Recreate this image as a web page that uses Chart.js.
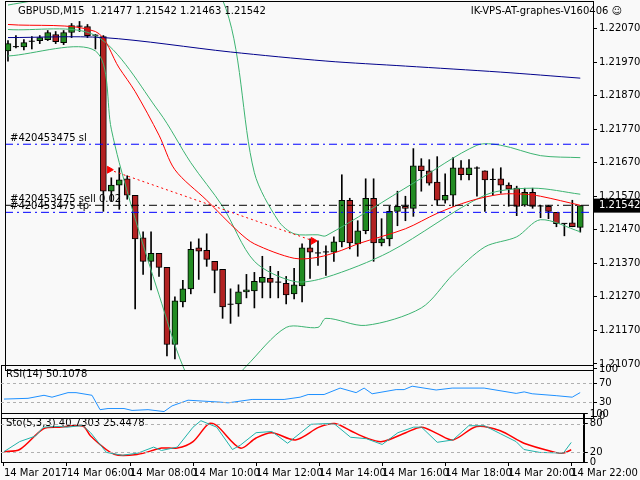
<!DOCTYPE html>
<html>
<head>
<meta charset="utf-8">
<script src="https://cdn.jsdelivr.net/npm/chart.js@4.4.1/dist/chart.umd.min.js"></script>
<style>
  body { margin: 0; background: #f9f9f9; width: 640px; height: 480px; overflow: hidden; position: relative; }
  canvas { position: absolute; left: 0; }
</style>
</head>
<body>
<canvas id="main" style="top:-7px"></canvas>
<canvas id="rsi" style="top:357px"></canvas>
<canvas id="sto" style="top:405px"></canvas>
<script>
// candles, 15 min, index 0..72
const opens  = [1.22003,1.22015,1.22015,1.22031,1.22034,1.22037,1.22052,1.22028,1.22058,1.22076,1.22076,1.22049,1.22046,1.21585,1.21603,1.21622,1.21573,1.21446,1.21376,1.21400,1.21358,1.21128,1.21255,1.21294,1.21416,1.21409,1.21376,1.21352,1.21249,1.21249,1.21285,1.21288,1.21313,1.21325,1.21313,1.21310,1.21279,1.21303,1.21416,1.21400,1.21403,1.21403,1.21434,1.21558,1.21428,1.21467,1.21564,1.21431,1.21443,1.21525,1.21540,1.21534,1.21661,1.21646,1.21612,1.21558,1.21573,1.21655,1.21634,1.21655,1.21646,1.21619,1.21622,1.21603,1.21594,1.21543,1.21582,1.21540,1.21540,1.21522,1.21488,1.21491,1.21477];
const highs  = [1.22034,1.22049,1.22037,1.22046,1.22049,1.22064,1.22061,1.22064,1.22085,1.22091,1.22082,1.22052,1.22049,1.21625,1.21655,1.21631,1.21573,1.21464,1.21464,1.21400,1.21358,1.21270,1.21319,1.21434,1.21443,1.21458,1.21376,1.21352,1.21294,1.21306,1.21337,1.21343,1.21391,1.21361,1.21346,1.21331,1.21355,1.21428,1.21443,1.21437,1.21422,1.21449,1.21634,1.21564,1.21497,1.21622,1.21622,1.21503,1.21540,1.21585,1.21570,1.21712,1.21682,1.21679,1.21688,1.21637,1.21685,1.21676,1.21679,1.21658,1.21646,1.21652,1.21655,1.21610,1.21600,1.21594,1.21594,1.21543,1.21543,1.21522,1.21488,1.21558,1.21542];
const lows   = [1.21973,1.22012,1.22006,1.22009,1.22025,1.22034,1.22025,1.22022,1.22043,1.22061,1.22043,1.22009,1.21525,1.21555,1.21531,1.21561,1.21234,1.21337,1.21291,1.21331,1.21094,1.21085,1.21240,1.21279,1.21322,1.21361,1.21282,1.21206,1.21191,1.21212,1.21267,1.21237,1.21267,1.21267,1.21267,1.21249,1.21264,1.21255,1.21325,1.21364,1.21334,1.21376,1.21419,1.21413,1.21391,1.21458,1.21376,1.21422,1.21422,1.21482,1.21497,1.21510,1.21585,1.21603,1.21543,1.21549,1.21540,1.21619,1.21619,1.21570,1.21525,1.21573,1.21579,1.21540,1.21512,1.21540,1.21534,1.21506,1.21503,1.21479,1.21452,1.21479,1.21463];
const closes = [1.22025,1.22016,1.22028,1.22032,1.22043,1.22058,1.22031,1.22058,1.22079,1.22077,1.22049,1.22050,1.21585,1.21603,1.21619,1.21573,1.21443,1.21376,1.21400,1.21358,1.21128,1.21258,1.21294,1.21412,1.21406,1.21382,1.21349,1.21240,1.21248,1.21285,1.21291,1.21316,1.21328,1.21313,1.21314,1.21276,1.21306,1.21416,1.21403,1.21401,1.21404,1.21434,1.21558,1.21431,1.21467,1.21564,1.21431,1.21443,1.21525,1.21540,1.21534,1.21661,1.21646,1.21609,1.21558,1.21573,1.21655,1.21634,1.21655,1.21654,1.21619,1.21620,1.21603,1.21591,1.21540,1.21582,1.21540,1.21541,1.21525,1.21488,1.21489,1.21479,1.21542];

// indicator lines, read at some candles
const redMaIdx = [0,11,14,16,19,21,25,29,31,36,39,42,44,50,54,58,62,65,67,72];
const redMaVal = [1.22082,1.22061,1.21952,1.21882,1.21752,1.21649,1.21558,1.21464,1.21428,1.21385,1.21388,1.21409,1.21428,1.21473,1.21519,1.21555,1.21576,1.21576,1.21570,1.21543];
const blueMaIdx = [0,12,28,40,50,62,72];
const blueMaVal = [1.22043,1.22043,1.22000,1.21973,1.21958,1.21940,1.21922];
const bbUpIdx = [0,3,8,14,20,27,31,34,36,39,40,51,59,62,67,72];
const bbUpVal = [1.22140,1.22152,1.22170,1.22276,1.22246,1.22155,1.21640,1.21497,1.21458,1.21455,1.21452,1.21609,1.21722,1.21722,1.21691,1.21685];
const bbMidIdx = [0,11,19,23,27,31,36,40,48,60,66,72];
const bbMidVal = [1.22067,1.22049,1.21822,1.21670,1.21540,1.21376,1.21316,1.21328,1.21404,1.21573,1.21594,1.21576];
const bbLowIdx = [0,11,13,14,16,19,22,25,30,35,39,40,45,52,56,60,64,67,72];
const bbLowVal = [1.21988,1.22003,1.21770,1.21670,1.21503,1.21276,1.21064,1.20943,1.21064,1.21179,1.21179,1.21206,1.21185,1.21237,1.21337,1.21419,1.21449,1.21500,1.21464];

const rsiIdx = [0,3,5,6,8,9,11,12,13,15,16,18,20,21,23,27,28,31,35,37,38,40,42,44,45,46,49,50,51,54,56,60,64,65,66,69,71,72];
const rsiVal = [36.4,38,44.4,40.4,50,50,44.4,14,16.4,16.4,12.4,14,10,22,34,30,28.4,35.6,35.6,40.4,46,46,59.6,50,59.6,47.6,56.4,56.4,63.6,55.6,59.6,59.6,48.4,51.6,47.6,43.6,40.4,50.1];
const stoKIdx = [0,2,4,5,7,8,10,11,13,15,17,19,20,22,24,25,27,29,30,32,34,36,39,41,42,44,46,48,50,52,53,55,57,59,61,63,65,66,68,71,72];
const stoKVal = [21.5,42.5,54,72.5,74,72.5,76,61,20,14,18.5,31,24,31,72.5,86,72.5,26,35,61,63.5,39,78.5,80,78.5,51.5,48.5,36.5,61,72.5,72.5,41,46,75.5,75.5,59,42.5,26,20,18.5,40.7];
const stoDIdx = [0,2,5,7,10,11,14,17,20,22,24,26,27,30,32,34,37,40,42,44,46,48,51,53,55,57,60,63,66,70,71,72];
const stoDVal = [21.5,26,69,72.5,75,54,16,16,29,29,42.5,80,76,29,50,61,46,72.5,80,65,50,42.5,61,72.5,59,46,74,65,39,20,18.5,25.4];

const timeTickIdx = [0,8,16,24,32,40,48,56,64,72];
const timeLabels = ['14 Mar 2017','14 Mar 06:00','14 Mar 08:00','14 Mar 10:00','14 Mar 12:00','14 Mar 14:00','14 Mar 16:00','14 Mar 18:00','14 Mar 20:00','14 Mar 22:00'];
const priceTicks = [1.22070,1.21970,1.21870,1.21770,1.21670,1.21570,1.21470,1.21370,1.21270,1.21170,1.21070];

const slLevel = 1.21725, openLevel = 1.21543, tpLevel = 1.21522;
const tradeIdx = [12.75, 38.4];
const tradeVal = [1.21649, 1.21437];

const FONT = 'DejaVu Sans';
const XMIN = -0.375, XMAX = 73.6;
const SHIFT = 7;   // canvases start 7px higher to hide the tick label padding
Chart.defaults.font.family = FONT;
Chart.defaults.font.size = 10;
Chart.defaults.color = '#000';
Chart.defaults.animation = false;

const pts = (idx, val) => idx.map((x, i) => ({ x: x, y: val[i] }));
const flat = (v) => [{ x: XMIN, y: v }, { x: XMAX, y: v }];

function lineDs(data, color, extra) {
    return Object.assign({ type: 'line', data: data, borderColor: color, borderWidth: 1, pointRadius: 0, tension: 0.3, fill: false }, extra || {});
}

// plot frame and text (canvases stay transparent, they overlap a bit)
const frame = {
    id: 'frame',
    afterDraw(chart, args, opts) {
        const c = chart.ctx, a = chart.chartArea;
        c.save();
        c.strokeStyle = '#000'; c.lineWidth = 1;
        c.strokeRect(Math.round(a.left) + 0.5, Math.round(a.top) + 0.5, Math.round(a.width), Math.round(a.height));
        c.font = '10px ' + FONT; c.fillStyle = '#000'; c.textBaseline = 'middle';
        (opts.texts || []).forEach(t => { c.textAlign = t.align || 'left'; c.fillText(t.text, t.x, t.y + SHIFT); });
        const ys = chart.scales.y;
        (opts.dashes || []).forEach(v => {
            const y = Math.round(ys.getPixelForValue(v)) + 0.5;
            c.strokeStyle = '#b0b0b0'; c.setLineDash([3, 3]);
            c.beginPath(); c.moveTo(a.left, y); c.lineTo(a.right, y); c.stroke();
        });
        c.setLineDash([]);
        if (opts.levelLabels) {
            opts.levelLabels.forEach(l => {
                c.textAlign = 'left';
                c.fillText(l.text, 10, ys.getPixelForValue(l.v) - 6);
            });
            const y = ys.getPixelForValue(closes[closes.length - 1]);
            c.fillStyle = '#000'; c.fillRect(a.right + 1, y - 7, chart.width - a.right - 1, 14);
            c.fillStyle = '#fff'; c.textAlign = 'left';
            c.fillText(closes[closes.length - 1].toFixed(5), a.right + 6, y);
        }
        c.restore();
    }
};

function yAxis(min, max, ticks, fmt) {
    return {
        position: 'right', min: min, max: max,
        afterBuildTicks: s => { s.ticks = ticks.map(v => ({ value: v })); },
        afterFit: s => { s.width = 47; },
        grid: { drawOnChartArea: false, tickLength: 4, color: '#000' },
        border: { color: '#000' },
        ticks: { callback: fmt, padding: 2, autoSkip: false, font: { size: 10 } }
    };
}
const xHidden = { type: 'linear', min: XMIN, max: XMAX, offset: false, display: false };

function setup(id, w, h) {
    const cv = document.getElementById(id);
    cv.width = w; cv.height = h; cv.style.width = w + 'px'; cv.style.height = h + 'px';
    return cv.getContext('2d');
}

// main price chart
const wickData = highs.map((h, i) => ({ x: i, y: [lows[i], h] }));
const isDoji = opens.map((o, i) => Math.abs(o - closes[i]) < 0.00003);
const bodyData = opens.map((o, i) => ({ x: i, y: isDoji[i] ? null : [o, closes[i]] }));
const bodyColors = opens.map((o, i) => closes[i] >= o ? '#228b22' : '#b22222');
const dojiData = opens.map((o, i) => isDoji[i] ? { x: i, y: closes[i] } : null).filter(p => p);
const dash = [8, 4, 2, 4];

new Chart(setup('main', 640, 385), {
    type: 'bar',
    data: {
        datasets: [
            lineDs(flat(slLevel), 'rgb(0,0,255)', { borderDash: dash, order: 0, tension: 0 }),
            lineDs(flat(openLevel), 'rgb(0,0,0)', { borderDash: dash, order: 0, tension: 0 }),
            lineDs(flat(tpLevel), 'rgb(0,0,255)', { borderDash: dash, order: 0, tension: 0 }),
            lineDs(pts(tradeIdx, tradeVal), '#ff0000', { borderDash: [2, 3], tension: 0, order: 0, pointRadius: 4, pointStyle: 'triangle', rotation: 90, pointBackgroundColor: '#ff0000', pointBorderColor: '#ff0000' }),
            lineDs(pts(redMaIdx, redMaVal), '#ff0000', { order: 1 }),
            lineDs(pts(blueMaIdx, blueMaVal), '#00008b', { order: 1 }),
            lineDs(pts(bbUpIdx, bbUpVal), '#3cb371', { order: 1 }),
            lineDs(pts(bbMidIdx, bbMidVal), '#3cb371', { order: 1 }),
            lineDs(pts(bbLowIdx, bbLowVal), '#3cb371', { order: 1 }),
            { type: 'scatter', data: dojiData, pointStyle: 'line', pointRadius: 3, borderColor: '#000', borderWidth: 1, order: 2 },
            { type: 'bar', data: bodyData, backgroundColor: bodyColors, borderColor: '#000', borderWidth: 1, borderSkipped: false, barThickness: 6, grouped: false, order: 3 },
            { type: 'bar', data: wickData, backgroundColor: '#000', barThickness: 1, grouped: false, order: 4 }
        ]
    },
    options: {
        responsive: false,
        layout: { padding: { left: 1, top: 1, right: 0, bottom: 0 } },
        plugins: {
            legend: { display: false }, tooltip: { enabled: false },
            frame: {
                texts: [
                    { text: 'GBPUSD,M15  1.21477 1.21542 1.21463 1.21542', x: 18, y: 11 },
                    { text: 'IK-VPS-AT-graphes-V160406 \u263A', x: 622, y: 11, align: 'right' }
                ],
                levelLabels: [
                    { text: '#420453475 sl', v: slLevel },
                    { text: '#420453475 sell 0.02', v: openLevel },
                    { text: '#420453475 tp', v: tpLevel }
                ]
            }
        },
        scales: {
            x: xHidden,
            y: yAxis(1.21052, 1.22152, priceTicks, v => v.toFixed(5))
        }
    },
    plugins: [frame]
});

// RSI
new Chart(setup('rsi', 640, 69), {
    type: 'line',
    data: { datasets: [lineDs(pts(rsiIdx, rsiVal), '#1e90ff', { tension: 0 })] },
    options: {
        responsive: false,
        layout: { padding: { left: 1, top: 1, right: 0, bottom: 0 } },
        plugins: {
            legend: { display: false }, tooltip: { enabled: false },
            frame: { texts: [{ text: 'RSI(14) 50.1078', x: 6, y: 10 }], dashes: [30, 70] }
        },
        scales: { x: xHidden, y: yAxis(-3.6, 108.4, [0, 30, 70, 100], v => v) }
    },
    plugins: [frame]
});

// Stochastic with time axis
new Chart(setup('sto', 640, 75), {
    type: 'line',
    data: {
        datasets: [
            lineDs(pts(stoKIdx, stoKVal), '#20b2aa', { tension: 0 }),
            lineDs(pts(stoDIdx, stoDVal), '#ff0000', { tension: 0.3, borderWidth: 1.5 })
        ]
    },
    options: {
        responsive: false,
        layout: { padding: { left: 1, top: 1, right: 0, bottom: 0 } },
        plugins: {
            legend: { display: false }, tooltip: { enabled: false },
            frame: { texts: [{ text: 'Sto(5,3,3) 40.7303 25.4478', x: 6, y: 11 }], dashes: [20, 80] }
        },
        scales: {
            x: {
                type: 'linear', min: XMIN, max: XMAX, position: 'bottom', offset: false,
                afterBuildTicks: s => { s.ticks = timeTickIdx.map(v => ({ value: v })); },
                grid: { drawOnChartArea: false, tickLength: 4, color: '#000' },
                border: { color: '#000' },
                ticks: { align: 'start', maxRotation: 0, autoSkip: false, padding: 1, callback: (v, i) => timeLabels[i] }
            },
            y: yAxis(0, 102, [0, 20, 80, 100], v => v)
        }
    },
    plugins: [frame]
});
</script>
</body>
</html>
